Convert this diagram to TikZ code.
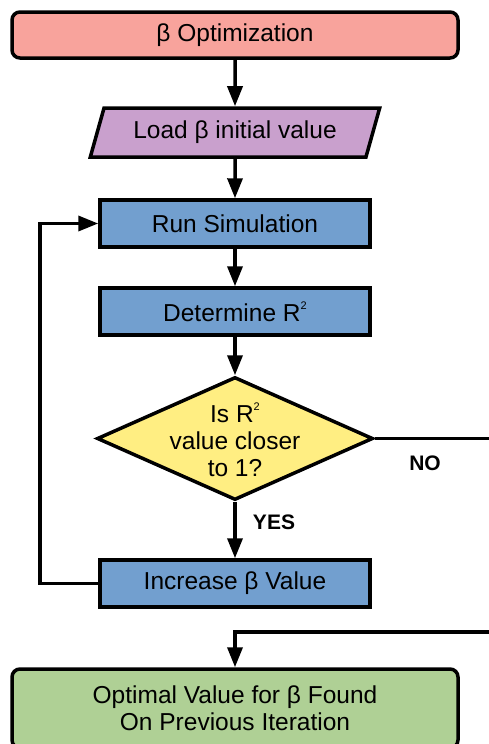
\documentclass[tikz,border=0pt]{standalone}
\usepackage{fontspec}
\setmainfont{Liberation Sans}
\usetikzlibrary{positioning}
\usetikzlibrary{shapes.geometric,calc,arrows.meta}

\definecolor{salmon}{HTML}{F8A39C}
\definecolor{lilac}{HTML}{C9A0CD}
\definecolor{skyblue}{HTML}{729FCF}
\definecolor{butter}{HTML}{FFEE82}
\definecolor{sage}{HTML}{AFD095}
\newcommand{\sqr}{\raisebox{0.5em}{\fontsize{11}{11}\selectfont 2}}

\begin{document}
\begin{tikzpicture}[x=1pt,y=-1pt,
		every node/.style={font=\fontsize{24.5}{27}\selectfont},
		startstop/.style={draw=black,line width=3.5pt,rounded corners=8pt,minimum width=446pt,minimum height=46pt,inner sep=0pt,align=center},
		io/.style={trapezium,trapezium left angle=65,trapezium right angle=115,trapezium stretches=true,draw=black,line width=3.5pt,fill=lilac,minimum width=290pt,minimum height=49pt,inner sep=0pt},
		process/.style={draw=black,line width=3.5pt,fill=skyblue,minimum width=270pt,minimum height=47pt,inner sep=0pt},
		decision/.style={diamond,draw=black,line width=3.5pt,fill=butter,minimum width=276pt,minimum height=123pt,inner sep=0pt},
		answer/.style={font=\fontsize{21}{24}\selectfont\bfseries},
		wire/.style={line width=3.5pt},
		conn/.style={wire,-{Triangle[length=20pt,width=15pt]}}
	]
		\useasboundingbox (0,0) rectangle (489,744);
		
		\coordinate(loopbot) at (40,583.5);
		\coordinate(looptop) at (40,223.5);
		\coordinate(noout) at (489,438.5);
		\coordinate(noin) at (489,632);
		\coordinate(nobend) at (235,632);
		
		\node[startstop,fill=salmon] (start) at (235,35) {β Optimization};
		\node[io] (load) at (235,132.5) {Load β initial value};
		\node[process] (run) at (235,223.5) {Run Simulation};
		\node[process] (det) at (235,311.5) {Determine R\sqr};
		\node[decision] (dec) at (235,438.5) {};
		\node[align=center] (dectext) at (235,440) {Is R\sqr\\value closer\\to 1?};
		\node[process] (inc) at (235,583.5) {Increase β Value};
		\node[startstop,fill=sage,minimum height=79pt] (end) at (235,708.5) {Optimal Value for β Found\\On Previous Iteration};
		\node[answer] (no) at (425,463) {NO};
		\node[answer] (yes) at (274,522) {YES};
		
		\draw[conn] (start) -- (load);
		\draw[conn] (load) -- (run);
		\draw[conn] (run) -- (det);
		\draw[conn] (det) -- (dec);
		\draw[conn] (dec) -- (inc);
		\draw[conn] (inc.west) -- (loopbot) -- (looptop) -- (run.west);
		\draw[wire] (dec.east) -- (noout);
		\draw[conn] (noin) -- (nobend) -- (end);
	\end{tikzpicture}
\end{document}
